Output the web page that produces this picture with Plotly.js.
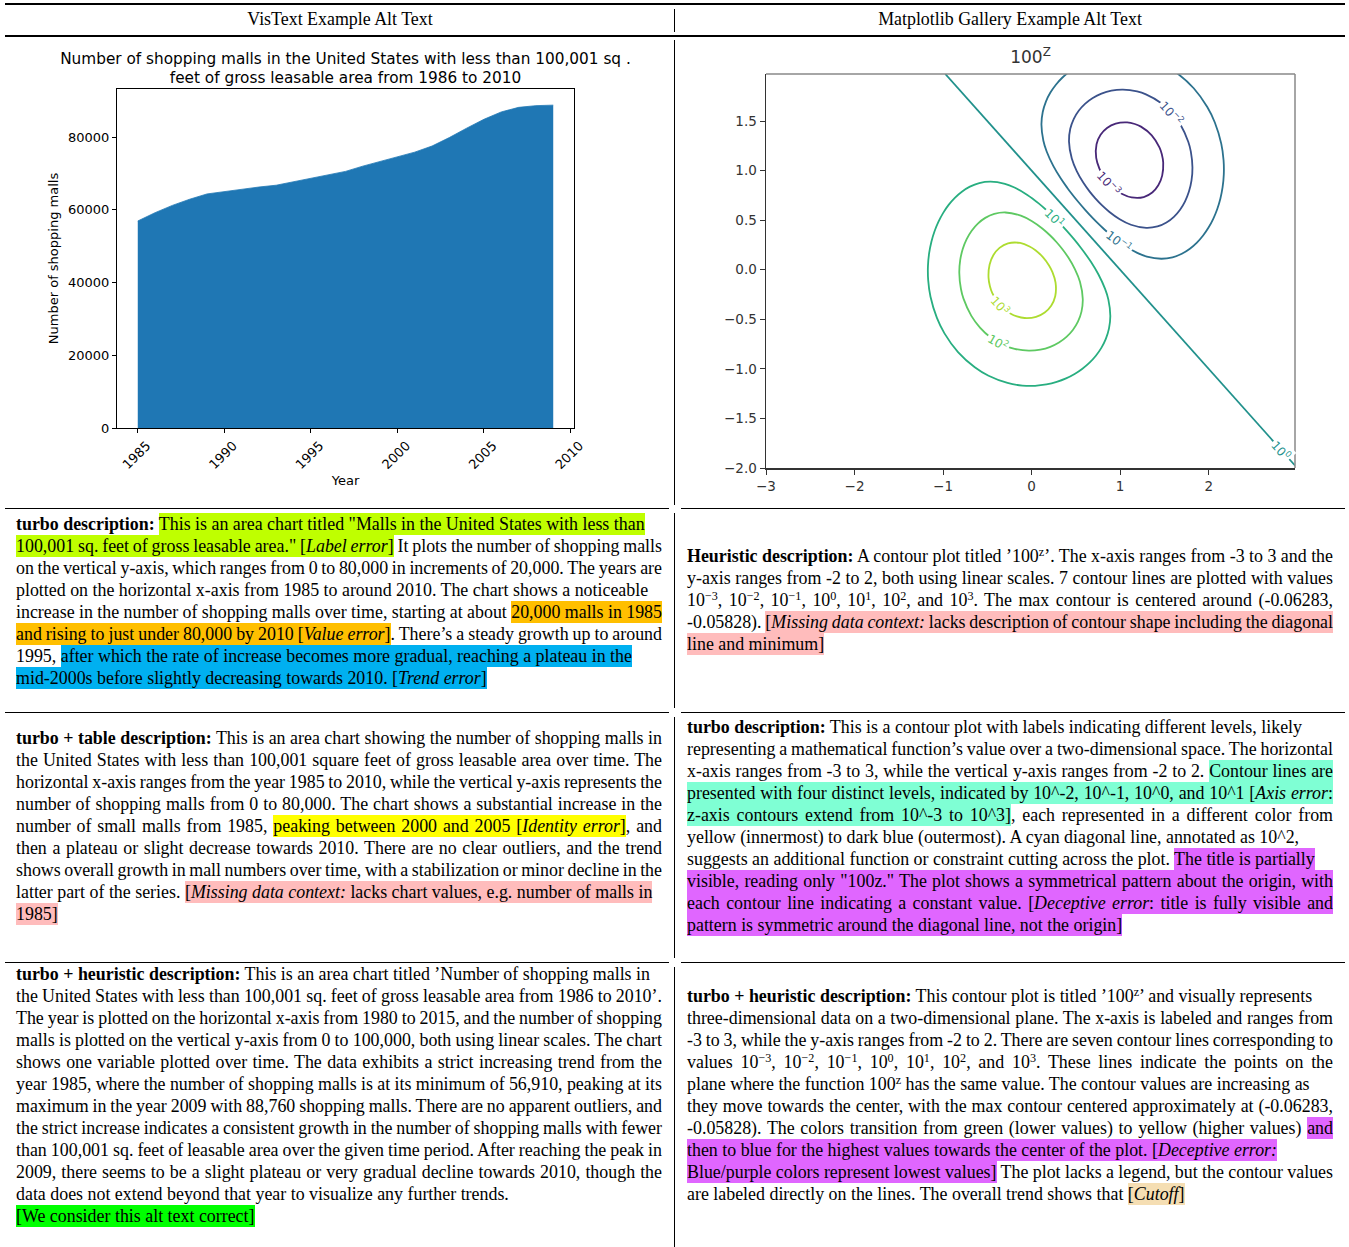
<!DOCTYPE html>
<html><head><meta charset="utf-8">
<script src="https://cdn.plot.ly/plotly-3.0.1.min.js"></script>
<style>
body{margin:0;width:1349px;height:1247px;position:relative;background:#fff;font-family:"Liberation Serif","Times New Roman",serif;color:#000;overflow:hidden}
.rule{position:absolute;background:#000}
.hdr{position:absolute;top:8px;height:22px;line-height:22px;font-size:17.9px;text-align:center;width:670px}
.blk{position:absolute;width:646px;font-size:17.9px;line-height:22px}
.ln{white-space:nowrap;height:22px}
sup{font-size:0.68em;line-height:0;vertical-align:0.5em}
.a,.o,.b,.y,.p,.g,.q,.v,.w{padding:1px 0}
.a{background:#bfff00}.o{background:#ffbf00}.b{background:#00b0f0}.y{background:#ffff00}
.p{background:#ffbcbc}.g{background:#00ff00}.q{background:#7fffd4}.v{background:#e066ff}.w{background:#f5deb3}
#area,#contour{position:absolute;top:40px;height:465px}
#area{left:0;width:675px}
#contour{left:680px;width:665px}
</style></head>
<body>
<div class="rule" style="left:5px;top:3px;width:1340px;height:2px"></div>
<div class="hdr" style="left:5px">VisText Example Alt Text</div>
<div class="hdr" style="left:675px">Matplotlib Gallery Example Alt Text</div>
<div class="rule" style="left:5px;top:35px;width:1340px;height:1.5px"></div>
<div class="rule" style="left:674px;top:9px;width:1px;height:23px"></div>
<div class="rule" style="left:674px;top:40px;width:1px;height:465px"></div>
<div class="rule" style="left:5px;top:508px;width:664px;height:1px"></div>
<div class="rule" style="left:681px;top:508px;width:664px;height:1px"></div>
<div class="rule" style="left:674px;top:513px;width:1px;height:195px"></div>
<div class="rule" style="left:5px;top:712px;width:664px;height:1px"></div>
<div class="rule" style="left:681px;top:712px;width:664px;height:1px"></div>
<div class="rule" style="left:674px;top:717px;width:1px;height:241px"></div>
<div class="rule" style="left:5px;top:962px;width:664px;height:1px"></div>
<div class="rule" style="left:681px;top:962px;width:664px;height:1px"></div>
<div class="rule" style="left:674px;top:967px;width:1px;height:280px"></div>
<div id="area"></div>
<div id="contour"></div>
<script>
// ---------- Area chart data ----------
const years = [1985,1986,1987,1988,1989,1990,1991,1992,1993,1994,1995,1996,1997,1998,1999,2000,2001,2002,2003,2004,2005,2006,2007,2008,2009];
const malls = [56910,59200,61200,62900,64350,65050,65700,66250,66750,67700,68700,69550,70550,71990,73280,74560,75840,77520,79860,82430,84870,86900,88150,88620,88760];
const yearTicks = [1985,1990,1995,2000,2005,2010];
const mallTicks = [0,20000,40000,60000,80000];

// ---------- Contour plot data (contour lines of 100^Z, traced) ----------
const levelNames = ['10<sup>−3</sup>','10<sup>−2</sup>','10<sup>−1</sup>','10<sup>0</sup>','10<sup>1</sup>','10<sup>2</sup>','10<sup>3</sup>'];
const lvlM3x = [1.3568,1.4439,1.4707,1.4866,1.4748,1.4310,1.3624,1.2667,1.1290,1.0232,0.9564,0.8726,0.8032,0.7646,0.7296,0.7333,0.7790,0.8518,0.9494,1.0791,1.1657,1.2349,1.3568];
const lvlM3y = [1.3568,1.2349,1.1657,1.0791,0.9494,0.8518,0.7790,0.7333,0.7296,0.7646,0.8032,0.8726,0.9564,1.0232,1.1290,1.2667,1.3624,1.4310,1.4748,1.4866,1.4707,1.4439,1.3568];
const lvlM2x = [1.5831,1.6805,1.7694,1.7985,1.8167,1.8062,1.7771,1.7334,1.6768,1.6072,1.5233,1.4219,1.2950,1.1218,0.9952,0.8794,0.7931,0.7198,0.6517,0.5832,0.5099,0.4539,0.4221,0.4367,0.4767,0.5342,0.6061,0.6909,0.7886,0.9009,1.0318,1.1914,1.2913,1.4650,1.5831];
const lvlM2y = [1.5831,1.4650,1.2913,1.1914,1.0318,0.9009,0.7886,0.6909,0.6061,0.5342,0.4767,0.4367,0.4221,0.4539,0.5099,0.5832,0.6517,0.7198,0.7931,0.8794,0.9952,1.1218,1.2950,1.4219,1.5233,1.6072,1.6768,1.7334,1.7771,1.8062,1.8167,1.7985,1.7694,1.6805,1.5831];
const lvlM1x = [1.8311,1.9842,2.0696,2.1420,2.1682,2.1707,2.1573,2.1318,2.0962,2.0515,1.9984,1.9371,1.8672,1.7877,1.6969,1.5914,1.4647,1.3013,1.1935,1.0482,0.9202,0.8254,0.7824,0.6910,0.6046,0.5213,0.4398,0.4039,0.3302,0.2447,0.1701,0.1330,0.1110,0.1257,0.1617,0.2123,0.2742,0.3457,0.4258,0.5142,0.6110,0.7167,0.8326,0.9607,1.1046,1.2722,1.4861,1.6421,1.8311];
const lvlM1y = [1.8311,1.6421,1.4861,1.2722,1.1046,0.9607,0.8326,0.7167,0.6110,0.5142,0.4258,0.3457,0.2742,0.2123,0.1617,0.1257,0.1110,0.1330,0.1701,0.2447,0.3302,0.4039,0.4398,0.5213,0.6046,0.6910,0.7824,0.8254,0.9202,1.0482,1.1935,1.3013,1.4647,1.5914,1.6969,1.7877,1.8672,1.9371,1.9984,2.0515,2.0962,2.1318,2.1573,2.1707,2.1682,2.1420,2.0696,1.9842,1.8311];
const lvl0x = [-0.975,2.975];
const lvl0y = [1.975,-1.975];
const lvlP1x = [-0.8311,-0.6421,-0.4861,-0.2722,-0.1046,0.0393,0.1674,0.2833,0.3890,0.4858,0.5742,0.6543,0.7258,0.7877,0.8383,0.8743,0.8890,0.8670,0.8299,0.7553,0.6698,0.5961,0.5602,0.4787,0.3954,0.3090,0.2176,0.1746,0.0798,-0.0482,-0.1935,-0.3013,-0.4647,-0.5914,-0.6969,-0.7877,-0.8672,-0.9371,-0.9984,-1.0515,-1.0962,-1.1318,-1.1573,-1.1707,-1.1682,-1.1420,-1.0696,-0.9842,-0.8311];
const lvlP1y = [-0.8311,-0.9842,-1.0696,-1.1420,-1.1682,-1.1707,-1.1573,-1.1318,-1.0962,-1.0515,-0.9984,-0.9371,-0.8672,-0.7877,-0.6969,-0.5914,-0.4647,-0.3013,-0.1935,-0.0482,0.0798,0.1746,0.2176,0.3090,0.3954,0.4787,0.5602,0.5961,0.6698,0.7553,0.8299,0.8670,0.8890,0.8743,0.8383,0.7877,0.7258,0.6543,0.5742,0.4858,0.3890,0.2833,0.1674,0.0393,-0.1046,-0.2722,-0.4861,-0.6421,-0.8311];
const lvlP2x = [-0.5831,-0.4650,-0.2913,-0.1914,-0.0318,0.0991,0.2114,0.3091,0.3939,0.4658,0.5233,0.5633,0.5779,0.5461,0.4901,0.4168,0.3483,0.2802,0.2069,0.1206,0.0048,-0.1218,-0.2950,-0.4219,-0.5233,-0.6072,-0.6768,-0.7334,-0.7771,-0.8062,-0.8167,-0.7985,-0.7694,-0.6805,-0.5831];
const lvlP2y = [-0.5831,-0.6805,-0.7694,-0.7985,-0.8167,-0.8062,-0.7771,-0.7334,-0.6768,-0.6072,-0.5233,-0.4219,-0.2950,-0.1218,0.0048,0.1206,0.2069,0.2802,0.3483,0.4168,0.4901,0.5461,0.5779,0.5633,0.5233,0.4658,0.3939,0.3091,0.2114,0.0991,-0.0318,-0.1914,-0.2913,-0.4650,-0.5831];
const lvlP3x = [-0.3568,-0.2349,-0.1657,-0.0791,0.0506,0.1482,0.2210,0.2667,0.2704,0.2354,0.1968,0.1274,0.0436,-0.0232,-0.1290,-0.2667,-0.3624,-0.4310,-0.4748,-0.4866,-0.4707,-0.4439,-0.3568];
const lvlP3y = [-0.3568,-0.4439,-0.4707,-0.4866,-0.4748,-0.4310,-0.3624,-0.2667,-0.1290,-0.0232,0.0436,0.1274,0.1968,0.2354,0.2704,0.2667,0.2210,0.1482,0.0506,-0.0791,-0.1657,-0.2349,-0.3568];
// index of the traced point where each level's inline label sits
const labelIndex = [11, 0, 19.5, 0.96, 25.5, 1.5, 0];
const xTicksC = [-3,-2,-1,0,1,2];
const xTickTextC = ['−3','−2','−1','0','1','2'];
const yTicksC = [-2,-1.5,-1,-0.5,0,0.5,1,1.5];
const yTickTextC = ['−2.0','−1.5','−1.0','−0.5','0.0','0.5','1.0','1.5'];

// ---------- styles ----------
const levelColors = ['#482878','#3b528b','#2c728e','#21918c','#28ae80','#5ec962','#addc30'];
const chartFont = 'DejaVu Sans, sans-serif';

// ---------- area chart ----------
Plotly.newPlot('area', [{
  x: years, y: malls, type: 'scatter', mode: 'lines', fill: 'tozeroy',
  fillcolor: '#1f77b4', line: {color: '#1f77b4', width: 0.8}, hoverinfo: 'skip'
}], {
  width: 675, height: 465, margin: {l: 117, r: 101, t: 49, b: 77},
  paper_bgcolor: 'rgba(0,0,0,0)', plot_bgcolor: '#fff', showlegend: false,
  font: {family: chartFont, size: 13, color: '#000'},
  title: {text: 'Number of shopping malls in the United States with less than 100,001 sq .<br>feet of gross leasable area from 1986 to 2010',
          font: {family: chartFont, size: 15.3, color: '#000'}, x: 0.5, xref: 'paper', xanchor: 'center',
          y: 1 - 23.5/465, yref: 'container', yanchor: 'middle'},
  xaxis: {range: [1983.8, 2010.2], tickvals: yearTicks, ticktext: yearTicks.map(String), tickangle: -45,
          ticklabelshift: 9,
          ticks: 'outside', ticklen: 4, tickwidth: 1, tickcolor: '#000', showline: true, mirror: true,
          linecolor: '#000', linewidth: 1, showgrid: false, zeroline: false, automargin: false,
          title: {text: 'Year', font: {size: 13}, standoff: 4}},
  yaxis: {range: [0, 93198], tickvals: mallTicks, ticktext: mallTicks.map(String),
          ticks: 'outside', ticklen: 4, tickwidth: 1, tickcolor: '#000', showline: true, mirror: true,
          linecolor: '#000', linewidth: 1, showgrid: false, zeroline: false, automargin: false,
          title: {text: 'Number of shopping malls', font: {size: 13}, standoff: 6}}
}, {staticPlot: true, displayModeBar: false});

// ---------- contour plot ----------
const xRangeC = [-3, 2.975], yRangeC = [-2, 1.975];
const mC = {l: 86, r: 50, t: 34, b: 37}, wC = 665, hC = 465;
const pxX = (wC - mC.l - mC.r) / (xRangeC[1] - xRangeC[0]);
const pxY = (hC - mC.t - mC.b) / (yRangeC[1] - yRangeC[0]);
const levelsX = [lvlM3x, lvlM2x, lvlM1x, lvl0x, lvlP1x, lvlP2x, lvlP3x];
const levelsY = [lvlM3y, lvlM2y, lvlM1y, lvl0y, lvlP1y, lvlP2y, lvlP3y];

const ctraces = levelsX.map((xs, k) => ({
  x: xs, y: levelsY[k], type: 'scatter', mode: 'lines', hoverinfo: 'skip',
  line: {color: levelColors[k], width: 1.8, shape: xs.length > 2 ? 'spline' : 'linear', smoothing: 1}
}));

function pointAt(xs, ys, t) {
  if (xs.length === 2) { // straight line: t is a fraction of its length
    return [xs[0] + t*(xs[1]-xs[0]), ys[0] + t*(ys[1]-ys[0]), xs[1]-xs[0], ys[1]-ys[0]];
  }
  const n = xs.length - 1; // closed loop, last == first
  const i = Math.floor(t), f = t - i;
  const i1 = (i + 1) % n;
  const px = xs[i] + f*(xs[i1]-xs[i]), py = ys[i] + f*(ys[i1]-ys[i]);
  let a, b;
  if (f > 0) { a = i; b = i1; } else { a = (i - 1 + n) % n; b = (i + 1) % n; }
  return [px, py, xs[b]-xs[a], ys[b]-ys[a]];
}
const cAnn = levelsX.map((xs, k) => {
  const [px, py, dx, dy] = pointAt(xs, levelsY[k], labelIndex[k]);
  let ang = Math.atan2(-dy*pxY, dx*pxX) * 180 / Math.PI;
  if (ang > 90) ang -= 180; if (ang < -90) ang += 180;
  return {x: px, y: py, xref: 'x', yref: 'y', text: levelNames[k], showarrow: false, textangle: ang,
          font: {family: chartFont, size: 12, color: levelColors[k]}, bgcolor: '#fff', borderpad: 1};
});

Plotly.newPlot('contour', ctraces, {
  width: wC, height: hC, margin: mC, paper_bgcolor: 'rgba(0,0,0,0)', plot_bgcolor: '#fff', showlegend: false,
  font: {family: chartFont, size: 13.5, color: '#333'},
  title: {text: '100<sup>Z</sup>', font: {family: chartFont, size: 17, color: '#333'}, x: 0.5, xref: 'paper',
          xanchor: 'center', y: 1 - 17/465, yref: 'container', yanchor: 'middle'},
  xaxis: {range: xRangeC, tickvals: xTicksC, ticktext: xTickTextC, ticks: 'outside', ticklen: 5, tickcolor: '#333',
          showline: true, linecolor: '#333', linewidth: 1.5, showgrid: false, zeroline: false, automargin: false},
  yaxis: {range: yRangeC, tickvals: yTicksC, ticktext: yTickTextC, ticks: 'outside', ticklen: 5, tickcolor: '#333',
          showline: true, linecolor: '#333', linewidth: 1.5, showgrid: false, zeroline: false, automargin: false},
  shapes: [
    {type: 'line', xref: 'paper', yref: 'paper', x0: 0, x1: 1, y0: 1, y1: 1, line: {color: '#888', width: 1.5}},
    {type: 'line', xref: 'paper', yref: 'paper', x0: 1, x1: 1, y0: 0, y1: 1, line: {color: '#888', width: 1.5}}
  ],
  annotations: cAnn
}, {staticPlot: true, displayModeBar: false});

// ---------- text cells ----------
const L1 = [
 ['l','<b>turbo description:</b> <span class="a">This is an area chart titled "Malls in the United States with less than</span>'],
 ['j','<span class="a">100,001 sq. feet of gross leasable area." [<i>Label error</i>]</span> It plots the number of shopping malls'],
 ['j','on the vertical y-axis, which ranges from 0 to 80,000 in increments of 20,000. The years are'],
 ['l','plotted on the horizontal x-axis from 1985 to around 2010. The chart shows a noticeable'],
 ['j','increase in the number of shopping malls over time, starting at about <span class="o">20,000 malls in 1985</span>'],
 ['j','<span class="o">and rising to just under 80,000 by 2010 [<i>Value error</i>]</span>. There’s a steady growth up to around'],
 ['l','1995, <span class="b">after which the rate of increase becomes more gradual, reaching a plateau in the</span>'],
 ['l','<span class="b">mid-2000s before slightly decreasing towards 2010. [<i>Trend error</i>]</span>']
];
const L2 = [
 ['j','<b>turbo + table description:</b> This is an area chart showing the number of shopping malls in'],
 ['j','the United States with less than 100,001 square feet of gross leasable area over time. The'],
 ['j','horizontal x-axis ranges from the year 1985 to 2010, while the vertical y-axis represents the'],
 ['j','number of shopping malls from 0 to 80,000. The chart shows a substantial increase in the'],
 ['j','number of small malls from 1985, <span class="y">peaking between 2000 and 2005 [<i>Identity error</i>]</span>, and'],
 ['j','then a plateau or slight decrease towards 2010. There are no clear outliers, and the trend'],
 ['j','shows overall growth in mall numbers over time, with a stabilization or minor decline in the'],
 ['l','latter part of the series. <span class="p">[<i>Missing data context:</i> lacks chart values, e.g. number of malls in</span>'],
 ['l','<span class="p">1985]</span>']
];
const L3 = [
 ['l','<b>turbo + heuristic description:</b> This is an area chart titled ’Number of shopping malls in'],
 ['j','the United States with less than 100,001 sq. feet of gross leasable area from 1986 to 2010’.'],
 ['j','The year is plotted on the horizontal x-axis from 1980 to 2015, and the number of shopping'],
 ['j','malls is plotted on the vertical y-axis from 0 to 100,000, both using linear scales. The chart'],
 ['j','shows one variable plotted over time. The data exhibits a strict increasing trend from the'],
 ['j','year 1985, where the number of shopping malls is at its minimum of 56,910, peaking at its'],
 ['j','maximum in the year 2009 with 88,760 shopping malls. There are no apparent outliers, and'],
 ['j','the strict increase indicates a consistent growth in the number of shopping malls with fewer'],
 ['j','than 100,001 sq. feet of leasable area over the given time period. After reaching the peak in'],
 ['j','2009, there seems to be a slight plateau or very gradual decline towards 2010, though the'],
 ['l','data does not extend beyond that year to visualize any further trends.'],
 ['l','<span class="g">[We consider this alt text correct]</span>']
];
const R1 = [
 ['j','<b>Heuristic description:</b> A contour plot titled ’100<sup>z</sup>’. The x-axis ranges from -3 to 3 and the'],
 ['j','y-axis ranges from -2 to 2, both using linear scales. 7 contour lines are plotted with values'],
 ['j','10<sup>−3</sup>, 10<sup>−2</sup>, 10<sup>−1</sup>, 10<sup>0</sup>, 10<sup>1</sup>, 10<sup>2</sup>, and 10<sup>3</sup>. The max contour is centered around (-0.06283,'],
 ['j','-0.05828). <span class="p">[<i>Missing data context:</i> lacks description of contour shape including the diagonal</span>'],
 ['l','<span class="p">line and minimum]</span>']
];
const R2 = [
 ['l','<b>turbo description:</b> This is a contour plot with labels indicating different levels, likely'],
 ['j','representing a mathematical function’s value over a two-dimensional space. The horizontal'],
 ['j','x-axis ranges from -3 to 3, while the vertical y-axis ranges from -2 to 2. <span class="q">Contour lines are</span>'],
 ['j','<span class="q">presented with four distinct levels, indicated by 10^-2, 10^-1, 10^0, and 10^1 [<i>Axis error</i>:</span>'],
 ['j','<span class="q">z-axis contours extend from 10^-3 to 10^3]</span>, each represented in a different color from'],
 ['l','yellow (innermost) to dark blue (outermost). A cyan diagonal line, annotated as 10^2,'],
 ['l','suggests an additional function or constraint cutting across the plot. <span class="v">The title is partially</span>'],
 ['j','<span class="v">visible, reading only "100z." The plot shows a symmetrical pattern about the origin, with</span>'],
 ['j','<span class="v">each contour line indicating a constant value. [<i>Deceptive error</i>: title is fully visible and</span>'],
 ['l','<span class="v">pattern is symmetric around the diagonal line, not the origin]</span>']
];
const R3 = [
 ['l','<b>turbo + heuristic description:</b> This contour plot is titled ’100<sup>z</sup>’ and visually represents'],
 ['j','three-dimensional data on a two-dimensional plane. The x-axis is labeled and ranges from'],
 ['j','-3 to 3, while the y-axis ranges from -2 to 2. There are seven contour lines corresponding to'],
 ['j','values 10<sup>−3</sup>, 10<sup>−2</sup>, 10<sup>−1</sup>, 10<sup>0</sup>, 10<sup>1</sup>, 10<sup>2</sup>, and 10<sup>3</sup>. These lines indicate the points on the'],
 ['l','plane where the function 100<sup>z</sup> has the same value. The contour values are increasing as'],
 ['j','they move towards the center, with the max contour centered approximately at (-0.06283,'],
 ['j','-0.05828). The colors transition from green (lower values) to yellow (higher values) <span class="v">and</span>'],
 ['l','<span class="v">then to blue for the highest values towards the center of the plot. [<i>Deceptive error:</i></span>'],
 ['j','<span class="v">Blue/purple colors represent lowest values]</span> The plot lacks a legend, but the contour values'],
 ['l','are labeled directly on the lines. The overall trend shows that <span class="w">[<i>Cutoff</i>]</span>']
];
const BLOCK_W = 646;
function renderBlock(left, top, lines) {
  const blk = document.createElement('div');
  blk.className = 'blk'; blk.style.left = left + 'px'; blk.style.top = top + 'px';
  lines.forEach(([al, html]) => {
    const d = document.createElement('div'); d.className = 'ln'; d.dataset.al = al;
    const s = document.createElement('span'); s.innerHTML = html; d.appendChild(s);
    blk.appendChild(d);
  });
  document.body.appendChild(blk);
}
renderBlock(16, 513, L1);
renderBlock(16, 727, L2);
renderBlock(16, 963, L3);
renderBlock(687, 545, R1);
renderBlock(687, 716, R2);
renderBlock(687, 985, R3);
function justifyAll() {
  document.querySelectorAll('.ln').forEach(d => {
    if (d.dataset.al !== 'j') return;
    const s = d.firstChild; s.style.wordSpacing = '0px';
    const w = s.getBoundingClientRect().width;
    const n = (s.textContent.match(/ /g) || []).length;
    if (n > 0) s.style.wordSpacing = ((BLOCK_W - w) / n) + 'px';
  });
}
justifyAll();
if (document.fonts && document.fonts.ready) document.fonts.ready.then(justifyAll);
</script>
</body></html>
